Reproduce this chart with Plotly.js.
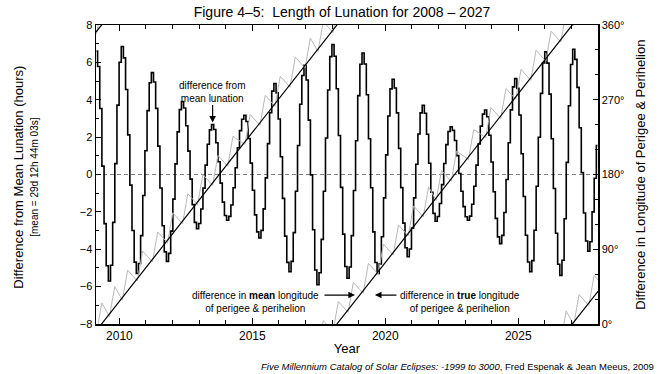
<!DOCTYPE html>
<html>
<head>
<meta charset="utf-8">
<script src="https://cdn.plot.ly/plotly-3.0.1.min.js"></script>
<style>html,body{margin:0;padding:0;background:#fff;}#chart{width:665px;height:374px;}</style>
</head>
<body>
<div id="chart"></div>
<script>
// ---- data ----
// first lunation (decimal year, centre of the step) and mean synodic month in years
const lunationStart = 2009.14;
const lunationStep = 0.080849;
// difference of each lunation from the mean lunation (hours)
const lunationDiff = [
 6.6, 5.78, 3.53, 0.45, -2.63, -4.88, -5.7, -4.86, -2.56, 0.58, 3.71, 6.01, 6.85, 6.24,
 4.55, 2.12, -0.57, -3.0, -4.69, -5.3, -4.76, -3.27, -1.12, 1.27, 3.42, 4.91, 5.45, 4.95,
 3.54, 1.52, -0.72, -2.74, -4.14, -4.65, -4.22, -3.03, -1.32, 0.57, 2.28, 3.47, 3.9, 3.56,
 2.61, 1.25, -0.25, -1.61, -2.56, -2.9, -2.62, -1.85, -0.73, 0.5, 1.62, 2.39, 2.67, 2.41,
 1.70, 0.68, -0.46, -1.48, -2.19, -2.45, -2.24, -1.63, -0.71, 0.36, 1.43, 2.35, 2.96, 3.17,
 2.84, 1.93, 0.61, -0.84, -2.16, -3.07, -3.4, -2.99, -1.84, -0.18, 1.65, 3.31, 4.46, 4.87,
 4.37, 2.97, 0.95, -1.28, -3.3, -4.7, -5.2, -4.65, -3.11, -0.9, 1.55, 3.76, 5.3, 5.85,
 5.06, 2.91, -0.02, -2.96, -5.11, -5.9, -5.26, -3.47, -0.9, 1.95, 4.52, 6.31, 6.95, 6.33,
 4.59, 2.09, -0.69, -3.19, -4.92, -5.55, -4.95, -3.27, -0.86, 1.81, 4.22, 5.9, 6.5, 5.91,
 4.27, 1.91, -0.71, -3.07, -4.71, -5.3, -4.78, -3.33, -1.25, 1.05, 3.13, 4.58, 5.1, 4.63,
 3.3, 1.4, -0.7, -2.6, -3.92, -4.4, -3.99, -2.87, -1.25, 0.55, 2.17, 3.3, 3.7, 3.28,
 2.15, 0.6, -0.95, -2.08, -2.5, -2.25, -1.55, -0.54, 0.59, 1.6, 2.3, 2.55, 2.36, 1.82,
 1.01, 0.05, -0.9, -1.72, -2.26, -2.45, -2.23, -1.59, -0.63, 0.5, 1.63, 2.59, 3.23, 3.45,
 3.09, 2.1, 0.67, -0.92, -2.35, -3.34, -3.7, -3.26, -2.03, -0.27, 1.7, 3.46, 4.69, 5.13,
 4.61, 3.18, 1.11, -1.18, -3.25, -4.68, -5.2, -4.61, -2.98, -0.63, 1.99, 4.34, 5.97, 6.56,
 5.96, 4.3, 1.91, -0.75, -3.14, -4.8, -5.4, -4.59, -2.37, 0.65, 3.68, 5.89, 6.7, 6.16,
 4.66, 2.5, 0.1, -2.06, -3.56, -4.1, -3.6, -2.0, -0.2, 1.55
];
// difference in MEAN longitude of perigee & perihelion (cumulative degrees, shown modulo 360)
const meanYears = [2009.12, 2028.0];
const meanDeg = [-8.5, 759.3];
// difference in TRUE longitude of perigee & perihelion (cumulative degrees, shown modulo 360)
const grayYears = [
 2008.774, 2009.140, 2009.340, 2009.625, 2009.825, 2010.110, 2010.310, 2010.676, 2010.876,
 2011.242, 2011.442, 2011.808, 2012.008, 2012.374, 2012.574, 2012.940, 2013.140, 2013.506,
 2013.706, 2014.072, 2014.272, 2014.719, 2014.919, 2015.285, 2015.485, 2015.850, 2016.050,
 2016.416, 2016.616, 2016.982, 2017.182, 2017.467, 2017.667, 2018.033, 2018.233, 2018.599,
 2018.799, 2019.165, 2019.365, 2019.731, 2019.931, 2020.297, 2020.497, 2020.863, 2021.063,
 2021.429, 2021.629, 2021.914, 2022.114, 2022.480, 2022.680, 2023.127, 2023.327, 2023.774,
 2023.974, 2024.340, 2024.540, 2024.906, 2025.106, 2025.471, 2025.671, 2026.037, 2026.237,
 2026.603, 2026.803, 2027.088, 2027.288, 2027.654, 2027.854, 2028.220
];
const grayDeg = [
 2.38, -10.73, 25.40, 9.0, 45.13, 28.72, 64.85, 51.74, 87.87,
 74.76, 110.89, 97.78, 133.91, 120.80, 156.93, 143.82, 179.95, 166.84,
 202.97, 189.86, 225.99, 216.17, 252.30, 239.19, 275.32, 262.17, 298.30,
 285.19, 321.32, 308.21, 344.34, 327.93, 364.06, 350.95, 387.08, 373.97,
 410.10, 396.99, 433.12, 420.01, 456.14, 443.03, 479.16, 466.05, 502.18,
 489.07, 525.20, 508.79, 544.92, 531.81, 567.94, 558.12, 594.25, 584.44,
 620.57, 607.46, 643.59, 630.48, 666.61, 653.45, 689.58, 676.47, 712.60,
 699.49, 735.62, 719.22, 755.35, 742.24, 778.37, 765.26
];
const wrapOffsets = [360, 0, -360, -720];

// ---- traces ----
const traces = [];
wrapOffsets.forEach(off => {
  traces.push({x: grayYears, y: grayDeg.map(d => d + off), yaxis: 'y2', type: 'scatter', mode: 'lines',
    line: {color: '#b8b8b8', width: 1}, hoverinfo: 'skip'});
});
wrapOffsets.forEach(off => {
  traces.push({x: meanYears, y: meanDeg.map(d => d + off), yaxis: 'y2', type: 'scatter', mode: 'lines',
    line: {color: '#000', width: 1.2}, hoverinfo: 'skip'});
});
traces.push({x0: lunationStart, dx: lunationStep, y: lunationDiff, type: 'scatter', mode: 'lines',
  line: {color: '#000', width: 1.6, shape: 'hvh'}, hoverinfo: 'skip'});

const F = 'Liberation Sans, Arial, Helvetica, sans-serif';
const layout = {
  width: 665, height: 374,
  margin: {l: 96, r: 67, t: 25, b: 50},
  paper_bgcolor: '#fff', plot_bgcolor: '#fff',
  showlegend: false,
  font: {family: F, color: '#000', size: 11},
  title: {text: 'Figure 4\u20135:\u00a0 Length of Lunation for 2008 \u2013 2027', font: {size: 14, family: F},
    xref: 'paper', x: 0.49, xanchor: 'center', yref: 'container', y: 0.968, yanchor: 'middle'},
  xaxis: {range: [2009.12, 2028.0], tickmode: 'linear', tick0: 2010, dtick: 5,
    ticks: 'inside', ticklen: 6, tickwidth: 1, tickcolor: '#000',
    minor: {dtick: 1, tick0: 2010, ticks: 'inside', ticklen: 4, tickwidth: 1, tickcolor: '#000'},
    showline: true, linewidth: 1.5, linecolor: '#000', mirror: 'ticks',
    showgrid: false, zeroline: false, tickfont: {size: 12},
    title: {text: 'Year', font: {size: 13}, standoff: 2}},
  yaxis: {range: [-8, 8], tickmode: 'linear', tick0: -8, dtick: 2,
    ticks: 'inside', ticklen: 5, tickwidth: 1, tickcolor: '#000',
    minor: {dtick: 1, ticks: 'inside', ticklen: 3, tickwidth: 1, tickcolor: '#000'},
    showline: true, linewidth: 1.5, linecolor: '#000', showgrid: false, zeroline: false,
    tickfont: {size: 11}},
  yaxis2: {overlaying: 'y', side: 'right', range: [0, 360], tickmode: 'linear', tick0: 0, dtick: 90,
    ticksuffix: '\u00b0', ticks: 'inside', ticklen: 5, tickwidth: 1, tickcolor: '#000',
    minor: {dtick: 30, ticks: 'inside', ticklen: 3, tickwidth: 1, tickcolor: '#000'},
    showline: true, linewidth: 1.5, linecolor: '#000', showgrid: false, zeroline: false,
    tickfont: {size: 11}},
  shapes: [{type: 'line', xref: 'paper', x0: 0, x1: 1, yref: 'y', y0: 0, y1: 0,
    line: {color: '#808080', width: 1, dash: '4px,3px'}, layer: 'below'}],
  annotations: [
    {text: 'Difference from Mean Lunation (hours)', textangle: -90, xref: 'paper', yref: 'paper',
      x: -0.155, y: 0.49, xanchor: 'center', yanchor: 'middle', showarrow: false, font: {size: 13}},
    {text: '[mean = 29d 12h 44m 03s]', textangle: -90, xref: 'paper', yref: 'paper',
      x: -0.123, y: 0.49, xanchor: 'center', yanchor: 'middle', showarrow: false, font: {size: 10}},
    {text: 'Difference in Longitude of Perigee &amp; Perihelion', textangle: -90, xref: 'paper', yref: 'paper',
      x: 1.084, y: 0.5, xanchor: 'center', yanchor: 'middle', showarrow: false, font: {size: 13}},
    {text: '<i>Five Millennium Catalog of Solar Eclipses: -1999 to 3000</i>, Fred Espenak &amp; Jean Meeus, 2009',
      xref: 'paper', yref: 'paper', x: 1.1155, y: -0.1405, xanchor: 'right', yanchor: 'middle',
      showarrow: false, font: {size: 9.5}},
    {text: 'difference from<br>mean lunation', xref: 'x', yref: 'y', x: 2013.506, y: 2.67,
      showarrow: true, ax: 0, ay: -33, arrowhead: 2, arrowsize: 1.1, arrowwidth: 1.2, arrowcolor: '#000',
      standoff: 2, font: {size: 10}},
    {text: 'difference in <b>mean</b> longitude<br>of perigee &amp; perihelion', xref: 'x', yref: 'y',
      x: 2015.13, y: -6.80, showarrow: false, font: {size: 10}},
    {text: '', xref: 'x', yref: 'y', x: 2018.86, y: -6.45, showarrow: true, ax: -32, ay: 0,
      arrowhead: 2, arrowsize: 1.1, arrowwidth: 1.2, arrowcolor: '#000'},
    {text: 'difference in <b>true</b> longitude<br>of perigee &amp; perihelion', xref: 'x', yref: 'y',
      x: 2022.80, y: -6.80, showarrow: false, font: {size: 10}},
    {text: '', xref: 'x', yref: 'y', x: 2019.61, y: -6.45, showarrow: true, ax: 23, ay: 0,
      arrowhead: 2, arrowsize: 1.1, arrowwidth: 1.2, arrowcolor: '#000'}
  ]
};

Plotly.newPlot('chart', traces, layout, {staticPlot: true, displayModeBar: false});
</script>
</body>
</html>
